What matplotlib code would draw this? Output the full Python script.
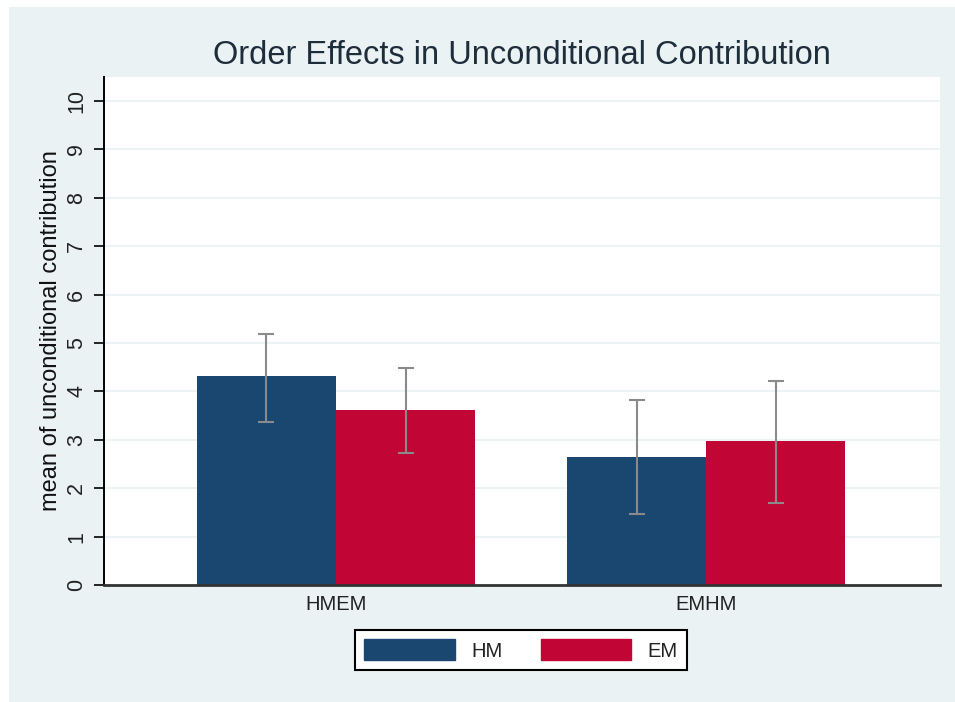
import matplotlib.pyplot as plt
import matplotlib.patches as mpatches
import numpy as np

groups = ["HMEM", "EMHM"]
series = ["HM", "EM"]
means = {"HM": [4.32, 2.64], "EM": [3.62, 2.98]}
err_lo = {"HM": [3.37, 1.47], "EM": [2.73, 1.69]}
err_hi = {"HM": [5.19, 3.83], "EM": [4.48, 4.21]}
colors = {"HM": "#1a476f", "EM": "#c10534"}
yticks = list(range(0, 11))

plt.rcParams['font.family'] = ['Liberation Sans', 'DejaVu Sans']

W, H = 955, 702
fig = plt.figure(figsize=(W / 100, H / 100), dpi=100)
fig.patch.set_facecolor("white")
# stata-like graph region, behind the axes
bg = mpatches.Rectangle((9 / W, 0), 1 - 9 / W, 1 - 7 / H,
                        transform=fig.transFigure,
                        facecolor="#eaf2f3", edgecolor="none", zorder=-5)
fig.add_artist(bg)

ax = fig.add_axes([104 / W, 1 - 585 / H, (940 - 104) / W, (585 - 77) / H])
ax.set_zorder(1)
ax.set_facecolor("white")

x = np.arange(len(groups))
bw = 0.376
for i, s in enumerate(series):
    xs = x + (i - 0.5) * bw
    ax.bar(xs, means[s], width=bw, color=colors[s], zorder=2, label=s)
    lo = np.array(means[s]) - np.array(err_lo[s])
    hi = np.array(err_hi[s]) - np.array(means[s])
    ax.errorbar(xs, means[s], yerr=[lo, hi], fmt="none", ecolor="#8a8a8a",
                elinewidth=1.5, capsize=6, capthick=1.5, zorder=3)

ax.set_xlim(-0.627, 1.632)
ax.set_ylim(0, (585 - 77) / 48.4)
ax.set_yticks(yticks)
ax.set_yticklabels([str(t) for t in yticks], rotation=90, va="center",
                   fontsize=15.5, color="#222222")
ax.set_xticks(x)
ax.set_xticklabels(groups, fontsize=14.5, color="#222222")
ax.tick_params(axis="x", length=0, pad=7)
ax.tick_params(axis="y", length=7, width=1.2, pad=5)
ax.grid(axis="y", color="#eaf2f3", linewidth=1.2, zorder=0)
ax.set_axisbelow(True)
for sp in ["top", "right"]:
    ax.spines[sp].set_visible(False)
ax.spines["left"].set_linewidth(1.4)
ax.spines["bottom"].set_linewidth(2)
ax.spines["bottom"].set_color("#333333")

ax.set_ylabel("mean of unconditional contribution", fontsize=17,
              color="#111111", labelpad=3)
fig.text(522 / W, 1 - 55 / H, "Order Effects in Unconditional Contribution",
         ha="center", va="center", fontsize=23.5, color="#1e2d3b")

handles = [mpatches.Patch(color=colors[s], label=s) for s in series]
leg = fig.legend(handles=handles, loc="center", ncol=2,
                 bbox_to_anchor=(521 / W, 1 - 650 / H), frameon=True,
                 fancybox=False, edgecolor="black", facecolor="white",
                 framealpha=1, fontsize=14.5,
                 handlelength=4.5, handleheight=1.2, columnspacing=1.9,
                 handletextpad=0.8, borderpad=0.45)
leg.get_frame().set_linewidth(1.5)
for t in leg.get_texts():
    t.set_color("#222222")

fig.savefig("out.png", dpi=100, facecolor=fig.get_facecolor())
